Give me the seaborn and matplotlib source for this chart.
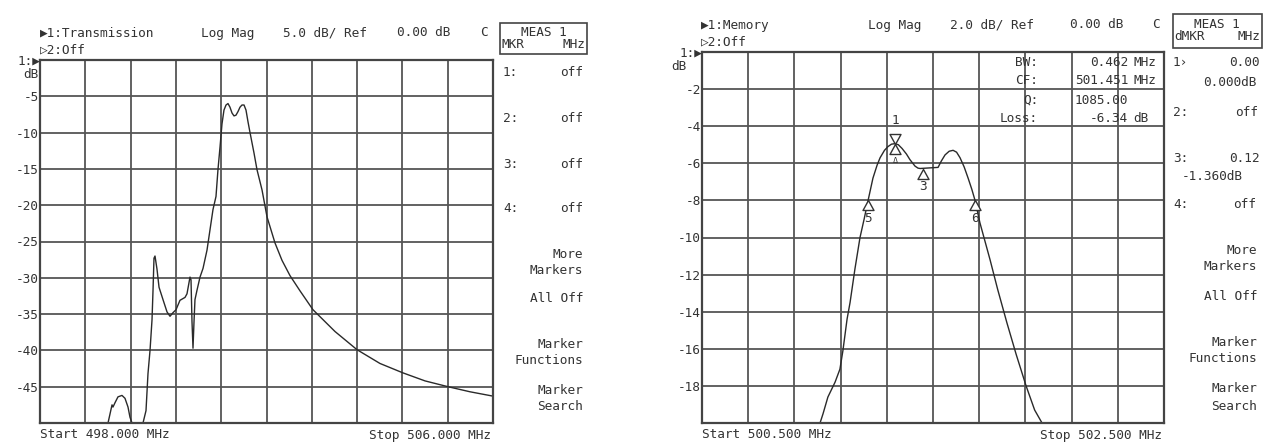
import numpy as np
import pandas as pd
import matplotlib
matplotlib.use("Agg")
import matplotlib.pyplot as plt
import seaborn as sns

# ---- Trace 1: transmission sweep, 498-506 MHz, 5 dB/div ----
trans_freq = [498.000, 499.201, 499.272, 499.289, 499.325, 499.377, 499.448, 499.501,
              499.554, 499.589, 499.625, 499.819, 499.872, 499.907, 499.943, 499.978,
              499.996, 500.013, 500.031, 500.066, 500.102, 500.172, 500.243, 500.296,
              500.349, 500.402, 500.472, 500.561, 500.596, 500.649, 500.667, 500.684,
              500.702, 500.720, 500.737, 500.773, 500.826, 500.879, 500.949, 501.002,
              501.055, 501.108, 501.143, 501.179, 501.214, 501.249, 501.285, 501.320,
              501.355, 501.391, 501.426, 501.461, 501.497, 501.532, 501.567, 501.603,
              501.638, 501.673, 501.709, 501.779, 501.832, 501.921, 502.009, 502.150,
              502.274, 502.415, 502.592, 502.821, 503.210, 503.598, 504.004, 504.411,
              504.799, 505.205, 505.594, 506.000]
trans_db = [-50.0, -50.0, -47.5, -47.8, -47.2, -46.4, -46.2, -46.6,
            -47.8, -49.2, -50.0, -50.0, -48.3, -43.2, -40.0, -35.8,
            -31.7, -27.3, -27.0, -28.8, -31.3, -33.0, -34.7, -35.3,
            -34.8, -34.4, -33.1, -32.7, -32.2, -29.9, -30.3, -36.0,
            -39.7, -36.0, -33.0, -31.7, -29.9, -28.7, -26.2, -23.4,
            -20.6, -18.8, -15.1, -12.0, -8.8, -6.9, -6.2, -6.0,
            -6.5, -7.3, -7.7, -7.6, -7.1, -6.5, -6.2, -6.2,
            -6.9, -8.5, -10.0, -12.8, -15.1, -17.9, -21.6, -25.2,
            -27.6, -29.7, -31.8, -34.4, -37.4, -39.9, -41.8, -43.1,
            -44.2, -45.0, -45.7, -46.3]

# ---- Trace 2: memory trace, 500.5-502.5 MHz, 2 dB/div ----
mem_freq = [500.500, 501.011, 501.024, 501.045, 501.076, 501.097, 501.110, 501.128,
            501.141, 501.162, 501.184, 501.202, 501.219, 501.240, 501.258, 501.271,
            501.290, 501.305, 501.320, 501.335, 501.350, 501.366, 501.385, 501.400,
            501.422, 501.435, 501.444, 501.522, 501.535, 501.552, 501.570, 501.587,
            501.602, 501.617, 501.635, 501.652, 501.668, 501.682, 501.703, 501.725,
            501.747, 501.780, 501.820, 501.860, 501.903, 501.940, 501.972, 502.500]
mem_db = [-20.0, -20.0, -19.5, -18.6, -17.8, -17.1, -16.1, -14.4,
          -13.5, -11.7, -10.0, -9.0, -8.0, -6.8, -6.1, -5.7,
          -5.3, -5.1, -4.97, -4.94, -5.0, -5.2, -5.5, -5.8,
          -6.15, -6.26, -6.28, -6.22, -5.9, -5.55, -5.35, -5.3,
          -5.4, -5.7, -6.2, -6.8, -7.4, -8.0, -9.2, -10.2,
          -11.2, -12.8, -14.6, -16.3, -18.0, -19.3, -20.0, -20.0]

# Markers: reference marker 1, delta marker 3, bandwidth markers 5 and 6
ref_marker = (501.335, -4.94)
delta3 = (0.12, -1.360)
bw_markers = [(501.220, -8.0, "5"), (501.682, -8.0, "6")]

left_yticks = [-5, -10, -15, -20, -25, -30, -35, -40, -45]
right_yticks = [-2, -4, -6, -8, -10, -12, -14, -16, -18]

W, H = 1263, 443
sns.set_theme(style="white")
plt.rcParams["font.family"] = ["DejaVu Sans Mono", "DejaVu Sans"]
TXT = "#333333"
GRID = "#555555"
FS = 9.2

fig = plt.figure(figsize=(W / 100, H / 100), dpi=100)


def ftext(x, y, s, ha="left", size=FS, **kw):
    fig.text(x / W, 1 - y / H, s, ha=ha, va="center", fontsize=size, color=TXT, **kw)


def make_axes(x0, x1, y0, y1):
    return fig.add_axes([x0 / W, 1 - y1 / H, (x1 - x0) / W, (y1 - y0) / H])


def style_axes(ax, fmin, fmax, ymin, ymax, step, ticks):
    ax.set_xlim(fmin, fmax)
    ax.set_ylim(ymin, ymax)
    ax.set_xticks(np.linspace(fmin, fmax, 11))
    ax.set_yticks(np.arange(ymax, ymin - step / 2, -step))
    ax.set_xticklabels([])
    labels = [f"{int(t)}" if int(t) in ticks else "" for t in ax.get_yticks()]
    ax.set_yticklabels(labels, fontsize=FS, color=TXT)
    ax.tick_params(axis="y", length=0, pad=1)
    ax.tick_params(axis="x", length=0)
    ax.grid(True, color=GRID, linewidth=1.3)
    for sp in ax.spines.values():
        sp.set_color("#444444")
        sp.set_linewidth(1.6)
    ax.set_xlabel("")
    ax.set_ylabel("")


# ---------- left display ----------
axL = make_axes(40, 493, 60, 423)
dfL = pd.DataFrame({"freq": trans_freq, "db": trans_db})
sns.lineplot(data=dfL, x="freq", y="db", ax=axL, color="#2a2a2a", linewidth=1.0,
             estimator=None, sort=False, legend=False)
style_axes(axL, 498.0, 506.0, -50, 0, 5, left_yticks)

ftext(40, 33, "\u25b61:Transmission")
ftext(22, 50 - 0, "")
ftext(40, 50, "\u25b72:Off")
ftext(201, 33, "Log Mag")
ftext(283, 33, "5.0 dB/ Ref")
ftext(397, 33, "0.00 dB")
ftext(480, 33, "C")
ftext(40, 61, "1:\u25b6", ha="right")
ftext(39, 75, "dB", ha="right")
ftext(40, 435, "Start 498.000 MHz")
ftext(491, 435, "Stop 506.000 MHz", ha="right")

fig.patches.append(plt.Rectangle((500 / W, 1 - 54 / H), 87 / W, 31 / H, transform=fig.transFigure,
                                 fill=False, edgecolor="#444444", linewidth=1.2))
ftext(544, 33, "MEAS 1", ha="center")
ftext(502, 45, "MKR")
ftext(585, 45, "MHz", ha="right")

for i, yy in enumerate([73, 118, 164, 209]):
    ftext(503, yy, f"{i + 1}:")
    ftext(583, yy, "off", ha="right")
for s, yy in [("More", 254), ("Markers", 270), ("All Off", 298), ("Marker", 344),
              ("Functions", 361), ("Marker", 390), ("Search", 406)]:
    ftext(583, yy, s, ha="right")

# ---------- right display ----------
axR = make_axes(702, 1164, 52, 423)
dfR = pd.DataFrame({"freq": mem_freq, "db": mem_db})
sns.lineplot(data=dfR, x="freq", y="db", ax=axR, color="#2a2a2a", linewidth=1.0,
             estimator=None, sort=False, legend=False)
style_axes(axR, 500.5, 502.5, -20, 0, 2, right_yticks)

down_tri = [(0, 0), (-0.55, 1), (0.55, 1), (0, 0)]
up_tri = [(0, 0), (-0.55, -1), (0.55, -1), (0, 0)]
mk = dict(markersize=14.4, markerfacecolor="white", markeredgecolor="#333333",
          markeredgewidth=1.0, linestyle="none", zorder=5)

rf, rd = ref_marker
axR.plot([rf], [rd], marker=down_tri, **mk)
axR.plot([rf], [rd], marker=up_tri, **mk)
axR.annotate("1", (rf, rd), xytext=(0, 17), textcoords="offset points",
             ha="center", va="center", fontsize=FS, color=TXT)
axR.annotate("\u0394", (rf, rd), xytext=(0, -12.5), textcoords="offset points",
             ha="center", va="center", fontsize=6, color=TXT)

m3 = (rf + delta3[0], rd + delta3[1])
axR.plot([m3[0]], [m3[1]], marker=up_tri, **mk)
axR.annotate("3", m3, xytext=(0, -13), textcoords="offset points",
             ha="center", va="center", fontsize=FS, color=TXT)
for f, d, lab in bw_markers:
    axR.plot([f], [d], marker=up_tri, **mk)
    axR.annotate(lab, (f, d), xytext=(0, -13), textcoords="offset points",
                 ha="center", va="center", fontsize=FS, color=TXT)

ftext(701, 25, "\u25b61:Memory")
ftext(701, 42, "\u25b72:Off")
ftext(868, 25, "Log Mag")
ftext(950, 25, "2.0 dB/ Ref")
ftext(1070, 25, "0.00 dB")
ftext(1152, 25, "C")
ftext(702, 53, "1:\u25b6", ha="right")
ftext(686, 67, "dB", ha="right")
ftext(702, 435, "Start 500.500 MHz")
ftext(1162, 435, "Stop 502.500 MHz", ha="right")

fig.patches.append(plt.Rectangle((1173 / W, 1 - 48 / H), 89 / W, 34 / H, transform=fig.transFigure,
                                 fill=False, edgecolor="#444444", linewidth=1.2))
ftext(1217, 25, "MEAS 1", ha="center")
ftext(1174, 37, "dMKR")
ftext(1260, 37, "MHz", ha="right")

# Marker function readout inside the graticule
for lab, val, unit, yy in [("BW:", "0.462", "MHz", 62), ("CF:", "501.451", "MHz", 80),
                           ("Q:", "1085.00", "", 100), ("Loss:", "-6.34", "dB", 118)]:
    ftext(1038, yy, lab, ha="right")
    ftext(1128, yy, val, ha="right")
    if unit:
        ftext(1133, yy, unit)

ftext(1173, 63, "1\u203a")
ftext(1260, 63, "0.00", ha="right")
ftext(1257, 83, "0.000dB", ha="right")
ftext(1173, 112, "2:")
ftext(1258, 112, "off", ha="right")
ftext(1173, 159, "3:")
ftext(1260, 159, "0.12", ha="right")
ftext(1243, 176, "-1.360dB", ha="right")
ftext(1173, 205, "4:")
ftext(1256, 205, "off", ha="right")
for s, yy in [("More", 250), ("Markers", 267), ("All Off", 297), ("Marker", 343),
              ("Functions", 359), ("Marker", 388), ("Search", 406)]:
    ftext(1257, yy, s, ha="right")

fig.savefig("out.png", dpi=100, facecolor="white")
